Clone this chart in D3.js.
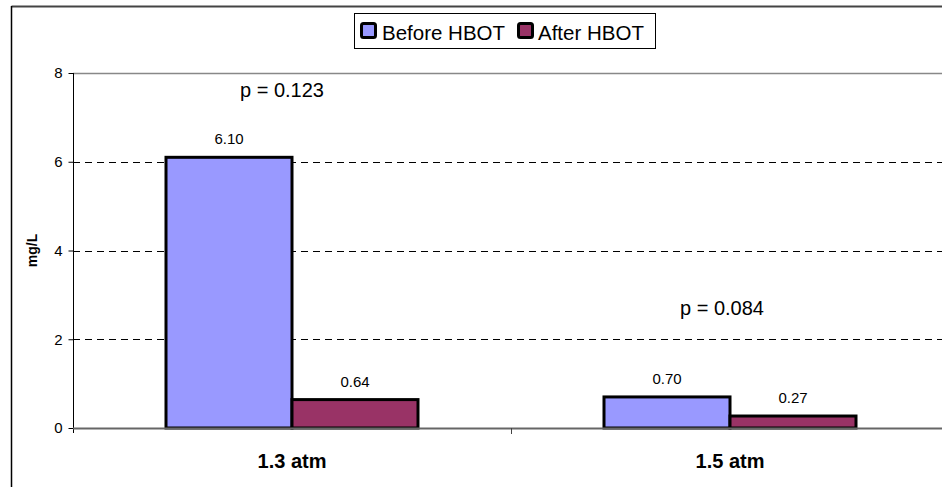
<!DOCTYPE html>
<html><head><meta charset="utf-8">
<script src="https://cdn.jsdelivr.net/npm/d3@7"></script>
<style>body{margin:0;background:#fff}svg{display:block;font-family:Arial,"Liberation Sans",sans-serif}</style>
</head><body>
<svg id="c" width="942" height="487"></svg>
<script>
const categories = ["1.3 atm", "1.5 atm"];
const seriesNames = ["Before HBOT", "After HBOT"];
const beforeValues = [6.10, 0.70];
const afterValues = [0.64, 0.27];
const pValueLabels = ["p = 0.123", "p = 0.084"];
const pValuePositions = [7.45, 2.55];
const yTicks = [0, 2, 4, 6, 8];
const colors = ["#9999FF", "#993366"];

(function () {
const svg = d3.select("#c");
const W = 942, H = 487;
const pLeft = 73, pRight = 949, pTop = 73, pBottom = 428;

// outer border (chart frame)
svg.append("line").attr("x1", 11.5).attr("x2", W).attr("y1", 6.5).attr("y2", 6.5).attr("stroke", "#444").attr("stroke-width", 2);
svg.append("line").attr("x1", 11.5).attr("x2", 11.5).attr("y1", 6).attr("y2", H).attr("stroke", "#000").attr("stroke-width", 1.5);

const x = d3.scaleBand().domain(categories).range([pLeft, pRight]).paddingInner(0).paddingOuter(0);
const y = d3.scaleLinear().domain([0, 8]).range([pBottom, pTop]);
const barW = 126;
const inner = d3.scaleBand().domain(seriesNames).range([0, barW * 2]);
const offset = (x.bandwidth() - barW * 2) / 2;

// plot top border (at 8)
svg.append("line").attr("x1", pLeft).attr("x2", W).attr("y1", y(8) + 0.5).attr("y2", y(8) + 0.5).attr("stroke", "#888").attr("stroke-width", 1.5);

// gridlines
svg.append("g").selectAll("line").data(yTicks.filter(d => d > 0 && d < 8)).join("line")
  .attr("x1", pLeft).attr("x2", W)
  .attr("y1", d => Math.round(y(d)) + 0.5).attr("y2", d => Math.round(y(d)) + 0.5)
  .attr("stroke", "#000").attr("stroke-width", 1).attr("stroke-dasharray", "7,5");

// y axis
const yAxis = d3.axisLeft(y).tickValues(yTicks).tickSize(5).tickPadding(6).tickFormat(d3.format("d"));
const ga = svg.append("g").attr("transform", `translate(${pLeft + 0.5},0)`).call(yAxis);
ga.attr("font-size", 15).attr("font-family", "Arial,'Liberation Sans',sans-serif");
ga.select(".domain").remove();
ga.selectAll(".tick line").attr("stroke", "#000");
ga.selectAll("text").style("font-size", "15px").attr("fill", "#000");
svg.append("line").attr("x1", pLeft + 0.5).attr("x2", pLeft + 0.5).attr("y1", pTop).attr("y2", pBottom + 5).attr("stroke", "#000");

// y label
svg.append("text").attr("transform", `translate(37,${(pTop + pBottom) / 2}) rotate(-90)`)
  .attr("text-anchor", "middle").attr("font-size", 14).attr("font-weight", "bold").text("mg/L");

// bars
const data = categories.map((c, i) => ({c, vals: [beforeValues[i], afterValues[i]]}));
const groups = svg.append("g").selectAll("g").data(data).join("g")
  .attr("transform", d => `translate(${x(d.c) + offset},0)`);
groups.selectAll("rect").data(d => d.vals.map((v, j) => ({v, s: seriesNames[j], j}))).join("rect")
  .attr("x", d => inner(d.s)).attr("width", inner.bandwidth())
  .attr("y", d => y(d.v)).attr("height", d => y(0) - y(d.v))
  .attr("fill", d => colors[d.j]).attr("stroke", "#000").attr("stroke-width", 3);
groups.selectAll("text").data(d => d.vals.map((v, j) => ({v, s: seriesNames[j]}))).join("text")
  .attr("x", d => inner(d.s) + inner.bandwidth() / 2).attr("y", d => y(d.v) - 13)
  .attr("text-anchor", "middle").attr("font-size", 15).text(d => d.v.toFixed(2));

// x axis baseline
svg.append("line").attr("x1", pLeft).attr("x2", W).attr("y1", pBottom + 0.5).attr("y2", pBottom + 0.5).attr("stroke", "#666").attr("stroke-width", 2);
// category separators
svg.append("g").selectAll("line").data(categories.slice(1)).join("line")
  .attr("x1", d => x(d) + 0.5).attr("x2", d => x(d) + 0.5).attr("y1", pBottom).attr("y2", pBottom + 6).attr("stroke", "#444").attr("stroke-width", 1);
// category labels
svg.append("g").selectAll("text").data(categories).join("text")
  .attr("x", d => x(d) + offset + barW).attr("y", 468)
  .attr("text-anchor", "middle").attr("font-size", 20).attr("font-weight", "bold").text(d => d);

// p-values
svg.append("g").selectAll("text").data(categories).join("text")
  .attr("x", (d, i) => x(d) + offset + barW - 10 + i * 2).attr("y", (d, i) => y(pValuePositions[i]))
  .attr("text-anchor", "middle").attr("font-size", 20).text((d, i) => pValueLabels[i]);

// legend
const lg = svg.append("g");
lg.append("rect").attr("x", 354.5).attr("y", 13.5).attr("width", 301).attr("height", 35)
  .attr("fill", "#fff").attr("stroke", "#000").attr("stroke-width", 1);
const items = [{x: 360, tx: 382}, {x: 517, tx: 538}];
seriesNames.forEach((s, i) => {
  lg.append("rect").attr("x", items[i].x + 1.5).attr("y", 23.5).attr("width", 14).attr("height", 14)
    .attr("fill", colors[i]).attr("stroke", "#000").attr("stroke-width", 3).attr("rx", 2);
  lg.append("text").attr("x", items[i].tx).attr("y", 40).attr("font-size", 20.5).text(s);
});
})();
</script>
</body></html>
